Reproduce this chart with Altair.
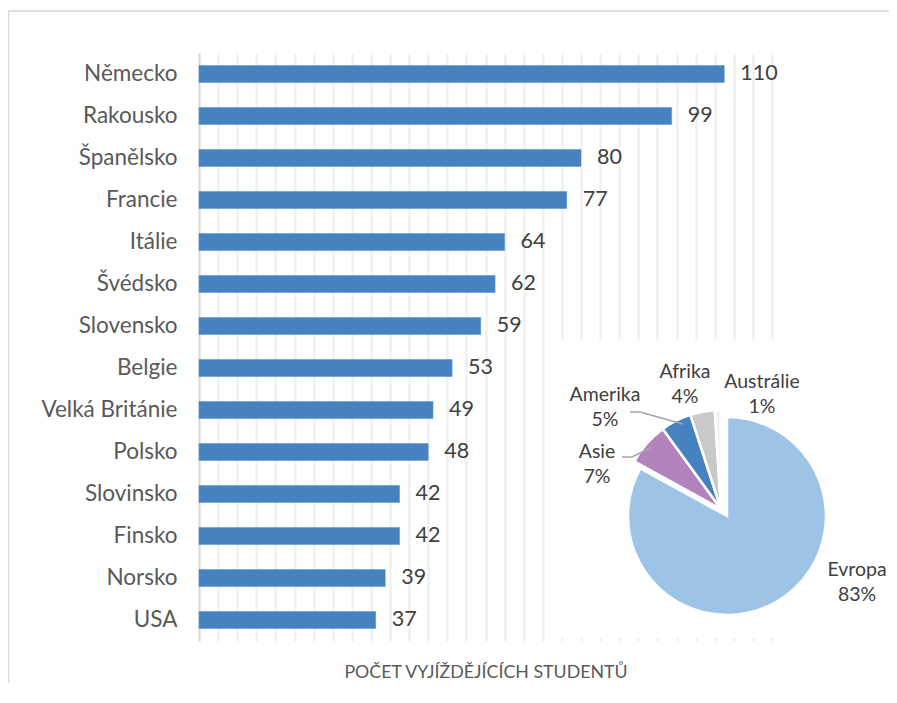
import altair as alt
import pandas as pd

# ---- data ----
countries = ["Německo", "Rakousko", "Španělsko", "Francie", "Itálie", "Švédsko",
             "Slovensko", "Belgie", "Velká Británie", "Polsko", "Slovinsko",
             "Finsko", "Norsko", "USA"]
students = [110, 99, 80, 77, 64, 62, 59, 53, 49, 48, 42, 42, 39, 37]

regions = ["Evropa", "Asie", "Amerika", "Afrika", "Austrálie"]
shares = [83, 7, 5, 4, 1]
region_colors = ["#9dc3e6", "#b383c0", "#4681c0", "#c9c9c9", "#f2f2f2"]

bar_df = pd.DataFrame({"country": countries, "value": students})
pie_df = pd.DataFrame({"region": regions, "share": shares, "order": list(range(len(regions)))})

FONT = "Lato"
TXT = "#595959"

W, H = 573, 588
PAD = {"left": 191, "top": 45, "right": 117, "bottom": 42}

x_enc = alt.X("value:Q", scale=alt.Scale(domain=[0, 120], nice=False),
              axis=alt.Axis(values=list(range(0, 121, 4)), labels=False, ticks=False,
                            domain=False, gridColor="#eeeeee", gridWidth=2,
                            title="POČET VYJÍŽDĚJÍCÍCH STUDENTŮ", titleFontSize=17.8,
                            titleColor=TXT, titleFontWeight="normal", titlePadding=22,
                            titleFont=FONT))
y_enc = alt.Y("country:N", sort=countries,
              scale=alt.Scale(paddingInner=0.6, paddingOuter=0.3),
              axis=alt.Axis(title=None, ticks=False, domainColor="#d9d9d9", domainWidth=2,
                            labelFontSize=22.5, labelColor=TXT, labelPadding=22,
                            labelFont=FONT, grid=False))

base = alt.Chart(bar_df)

bars = base.mark_bar(color="#4681c0", stroke="#5b93cf", strokeWidth=0.6).encode(
    x=x_enc, y=y_enc)

bar_labels = base.mark_text(align="left", baseline="middle", dx=16, fontSize=21.5,
                            font=FONT, color="#404040").encode(
    x=x_enc, y=y_enc, text="value:Q")

one = pd.DataFrame({"a": [0]})

frame_top = alt.Chart(one).mark_rule(color="#d9d9d9", strokeWidth=1.5).encode(
    x=alt.value(-190.5), x2=alt.value(W + PAD["right"]), y=alt.value(-42))
frame_left = alt.Chart(one).mark_rule(color="#d9d9d9", strokeWidth=1.5).encode(
    x=alt.value(-190.5), y=alt.value(-42), y2=alt.value(H + PAD["bottom"]))

white_box = alt.Chart(one).mark_rect(fill="white").encode(
    x=alt.value(349), x2=alt.value(W + 20), y=alt.value(287), y2=alt.value(585))

pie_base = alt.Chart(pie_df).transform_stack(
    stack="share", as_=["s0", "s1"], groupby=[], sort=[alt.SortField("order")])

color_enc = alt.Color("region:N", scale=alt.Scale(domain=regions, range=region_colors),
                      legend=None)

pie_main = pie_base.transform_filter(alt.datum.region == "Evropa").mark_arc(
    radius=99, stroke="white", strokeWidth=2.5).encode(
    theta=alt.Theta("s0:Q", scale=alt.Scale(domain=[0, 100])),
    theta2="s1:Q",
    color=color_enc,
    x=alt.value(528), y=alt.value(463),
)

pie_rest = pie_base.transform_filter(alt.datum.region != "Evropa").mark_arc(
    radius=99, stroke="white", strokeWidth=2.5).encode(
    theta=alt.Theta("s0:Q", scale=alt.Scale(domain=[0, 100])),
    theta2="s1:Q",
    color=color_enc,
    x=alt.value(522), y=alt.value(456),
)

# first-line centre of each two-line pie label (plot coordinates)
label_pos = {
    "Amerika": (406, 342),
    "Afrika": (486, 319),
    "Austrálie": (563, 329),
    "Asie": (398, 399),
    "Evropa": (658, 517),
}

label_layers = []
for reg, (lx, ly) in label_pos.items():
    label_layers.append(
        alt.Chart(pie_df).transform_filter(alt.datum.region == reg)
        .transform_calculate(lbl="datum.region + '\\n' + datum.share + '%'")
        .mark_text(lineBreak="\n", align="center", baseline="middle", fontSize=19.5,
                   lineHeight=25, font=FONT, color="#404040")
        .encode(text="lbl:N", x=alt.value(lx), y=alt.value(ly))
    )

segments = [
    ((431, 359), (441, 359)),
    ((441, 359), (484, 371)),
    ((423, 404), (433, 404)),
    ((433, 404), (453, 394)),
]
leaders = []
for (ax, ay), (bx, by) in segments:
    leaders.append(
        alt.Chart(one).mark_rule(color="#a6a6a6", strokeWidth=1.5).encode(
            x=alt.value(ax), y=alt.value(ay), x2=alt.value(bx), y2=alt.value(by))
    )

chart = alt.layer(
    frame_top, frame_left, bars, bar_labels, white_box, pie_main, pie_rest,
    *leaders, *label_layers
).properties(
    width=W, height=H,
    autosize=alt.AutoSizeParams(type="none"),
    padding=PAD,
    background="white",
).configure_view(stroke=None)

chart.save("out.html", embed_options={"renderer": "svg", "actions": False})
